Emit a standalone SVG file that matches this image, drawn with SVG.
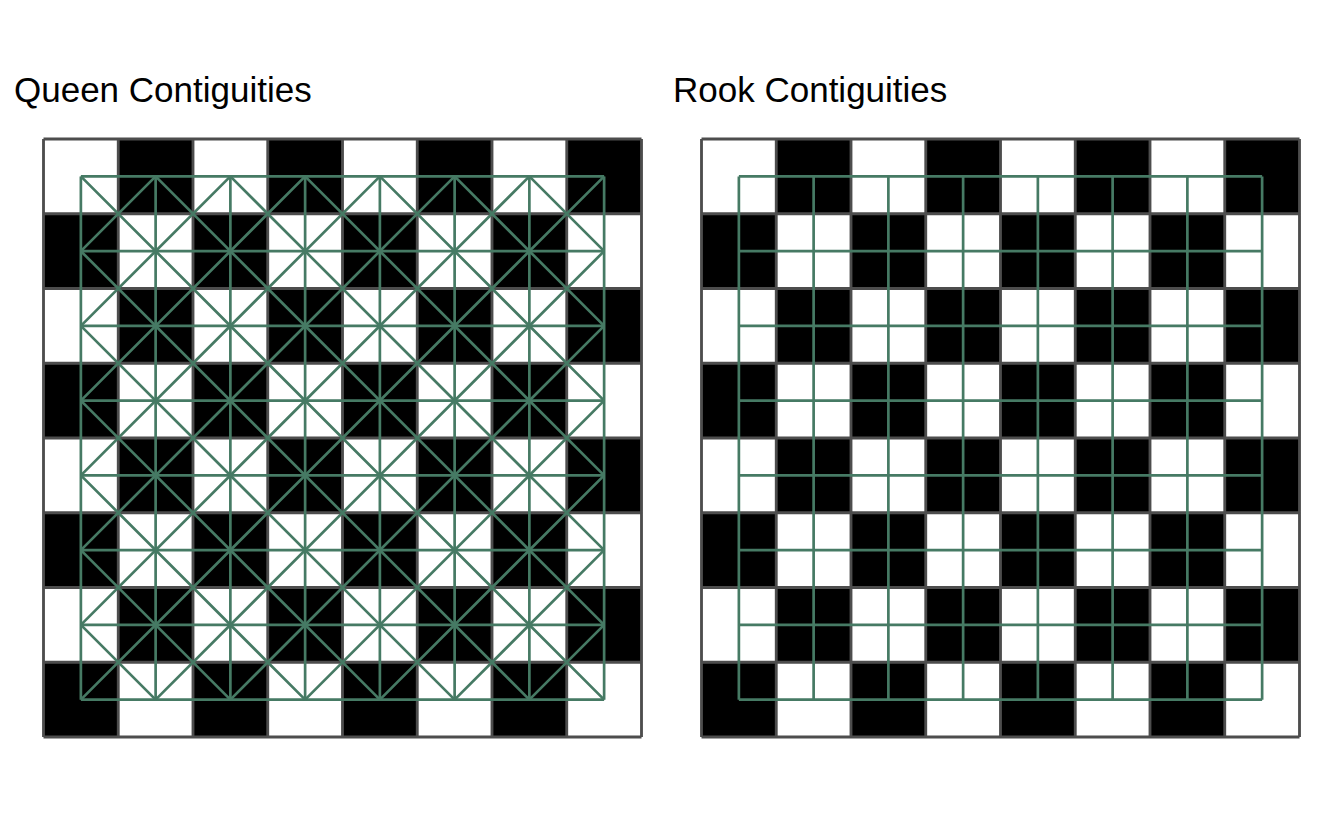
<svg xmlns="http://www.w3.org/2000/svg" width="1344" height="830" viewBox="0 0 1344 830">
<style>
.title{font-family:"Liberation Sans",Arial,sans-serif;font-size:35px;fill:#000}
.bg{fill:#fff}
.blk{fill:#000}
.grid{fill:none;stroke:#4d4d4d;stroke-width:0.038}
.link{fill:none;stroke:#467a64;stroke-width:0.036;stroke-linecap:butt}
</style>
<defs>
<g id="board">
<rect class="bg" x="0" y="0" width="8" height="8"/>
<path class="blk" d="M1 0h1v1h-1zM3 0h1v1h-1zM5 0h1v1h-1zM7 0h1v1h-1zM0 1h1v1h-1zM2 1h1v1h-1zM4 1h1v1h-1zM6 1h1v1h-1zM1 2h1v1h-1zM3 2h1v1h-1zM5 2h1v1h-1zM7 2h1v1h-1zM0 3h1v1h-1zM2 3h1v1h-1zM4 3h1v1h-1zM6 3h1v1h-1zM1 4h1v1h-1zM3 4h1v1h-1zM5 4h1v1h-1zM7 4h1v1h-1zM0 5h1v1h-1zM2 5h1v1h-1zM4 5h1v1h-1zM6 5h1v1h-1zM1 6h1v1h-1zM3 6h1v1h-1zM5 6h1v1h-1zM7 6h1v1h-1zM0 7h1v1h-1zM2 7h1v1h-1zM4 7h1v1h-1zM6 7h1v1h-1z"/>
<path class="grid" d="M0 0H8M0 1H8M0 2H8M0 3H8M0 4H8M0 5H8M0 6H8M0 7H8M0 8H8M0 0V8M1 0V8M2 0V8M3 0V8M4 0V8M5 0V8M6 0V8M7 0V8M8 0V8"/>
</g>
<path id="rook" class="link" d="M.5 .5H7.5M.5 1.5H7.5M.5 2.5H7.5M.5 3.5H7.5M.5 4.5H7.5M.5 5.5H7.5M.5 6.5H7.5M.5 7.5H7.5M.5 .5V7.5M1.5 .5V7.5M2.5 .5V7.5M3.5 .5V7.5M4.5 .5V7.5M5.5 .5V7.5M6.5 .5V7.5M7.5 .5V7.5"/>
</defs>
<text class="title" x="14" y="102">Queen Contiguities</text>
<text class="title" x="673" y="102">Rook Contiguities</text>
<g id="queen-board" transform="translate(43.5 139) scale(74.75)">
<use href="#board"/>
</g>
<g id="rook-board" transform="translate(701.5 139) scale(74.75)">
<use href="#board"/>
</g>
<g id="connectors">
<g id="queen-links" transform="translate(43.5 139) scale(74.75)">
<use href="#rook"/>
<path class="link" d="M.5 .5L7.5 7.5M1.5 .5L7.5 6.5M2.5 .5L7.5 5.5M3.5 .5L7.5 4.5M4.5 .5L7.5 3.5M5.5 .5L7.5 2.5M6.5 .5L7.5 1.5M.5 1.5L6.5 7.5M.5 2.5L5.5 7.5M.5 3.5L4.5 7.5M.5 4.5L3.5 7.5M.5 5.5L2.5 7.5M.5 6.5L1.5 7.5M.5 1.5L1.5 .5M.5 2.5L2.5 .5M.5 3.5L3.5 .5M.5 4.5L4.5 .5M.5 5.5L5.5 .5M.5 6.5L6.5 .5M.5 7.5L7.5 .5M1.5 7.5L7.5 1.5M2.5 7.5L7.5 2.5M3.5 7.5L7.5 3.5M4.5 7.5L7.5 4.5M5.5 7.5L7.5 5.5M6.5 7.5L7.5 6.5"/>
</g>
<g id="rook-links" transform="translate(701.5 139) scale(74.75)">
<use href="#rook"/>
</g>
</g>
</svg>
